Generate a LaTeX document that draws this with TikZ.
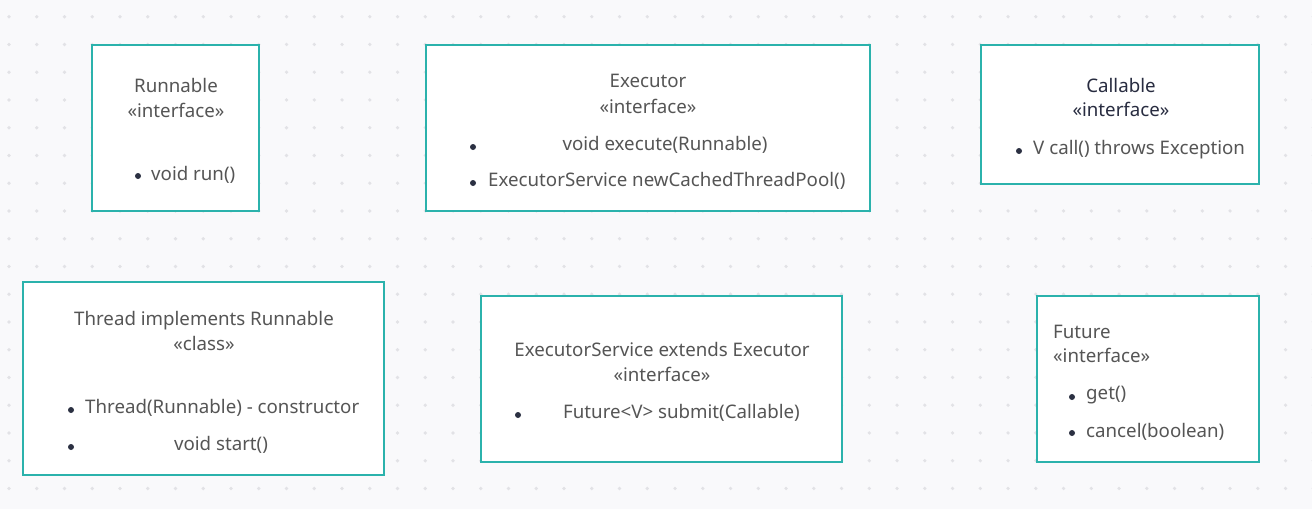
\documentclass[tikz,border=0pt]{standalone}
\usepackage{fontspec}
\setmainfont{Noto Sans}
\definecolor{bgc}{RGB}{249,249,251}
\definecolor{dotc}{RGB}{226,226,230}
\definecolor{teal1}{RGB}{43,178,172}
\definecolor{txt}{RGB}{85,85,85}
\definecolor{dark}{RGB}{40,44,64}
\definecolor{bul}{RGB}{43,48,66}
\tikzset{
  umlbox/.style={draw=teal1, line width=2.6pt, fill=white},
  lbl/.style={inner sep=0pt, anchor=base, text=txt, font=\fontsize{18.7}{22}\selectfont},
  lblw/.style={lbl, anchor=base west},
  bulletdot/.style={circle, fill=bul, inner sep=0pt, minimum size=6pt},
}
\begin{document}
\begin{tikzpicture}[x=1pt,y=-1pt]
\fill[bgc] (0,0) rectangle (1312,509);
\useasboundingbox (0,0) rectangle (1312,509);
\foreach \i in {0,...,47}{\foreach \j in {0,...,18}{
  \fill[dotc] ({9+27.75*\i},{16.7+27.75*\j}) circle (1.8);
}}
% boxes
\draw[umlbox] (92,45) rectangle (259,211) coordinate (runbox);
\draw[umlbox] (426,45) rectangle (870,211) coordinate (exbox);
\draw[umlbox] (981,45) rectangle (1259,184) coordinate (calbox);
\draw[umlbox] (23,282) rectangle (384,475) coordinate (thbox);
\draw[umlbox] (481,296) rectangle (842,462) coordinate (esbox);
\draw[umlbox] (1037,296) rectangle (1259,462) coordinate (fubox);
% Runnable
\node[lbl] (r1) at (176,92) {Runnable};
\node[lbl] (r2) at (176,117) {«interface»};
\node[bulletdot] (rb1) at (138,176) {};
\node[lblw] (r3) at (151,180) {void run()};
% Executor
\node[lbl] (e1) at (648,87) {Executor};
\node[lbl] (e2) at (648,113) {«interface»};
\node[bulletdot] (eb1) at (473,147) {};
\node[lbl] (e3) at (665,150) {void execute(Runnable)};
\node[bulletdot] (eb2) at (473,183) {};
\node[lblw] (e4) at (488,186) {ExecutorService newCachedThreadPool()};
% Callable
\node[lbl, text=dark] (c1) at (1121,92) {Callable};
\node[lbl, text=dark] (c2) at (1121,116) {«interface»};
\node[bulletdot] (cb1) at (1019,151) {};
\node[lblw] (c3) at (1033,154) {V call() throws Exception};
% Thread
\node[lbl] (t1) at (204,325) {Thread implements Runnable};
\node[lbl] (t2) at (204,350) {«class»};
\node[bulletdot] (tb1) at (71,410) {};
\node[lblw] (t3) at (85,413) {Thread(Runnable) - constructor};
\node[bulletdot] (tb2) at (71,447) {};
\node[lbl] (t4) at (221,450) {void start()};
% ExecutorService
\node[lbl] (s1) at (662,356) {ExecutorService extends Executor};
\node[lbl] (s2) at (662,381) {«interface»};
\node[bulletdot] (sb1) at (518,415) {};
\node[lblw] (s3) at (563,418) {Future<V> submit(Callable)};
% Future
\node[lblw] (f1) at (1053,338) {Future};
\node[lblw] (f2) at (1053,362) {«interface»};
\node[bulletdot] (fb1) at (1072,397) {};
\node[lblw] (f3) at (1086,399) {get()};
\node[bulletdot] (fb2) at (1072,433) {};
\node[lblw] (f4) at (1086,437) {cancel(boolean)};
\end{tikzpicture}
\end{document}
